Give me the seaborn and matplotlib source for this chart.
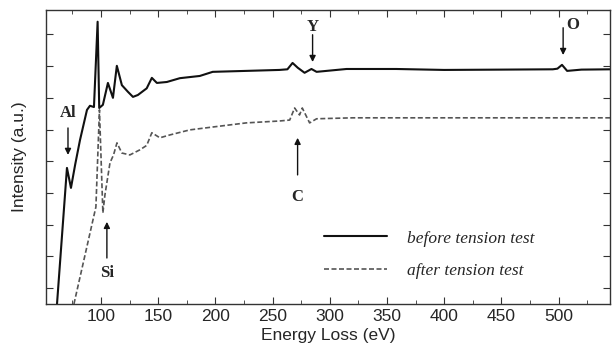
import numpy as np
import pandas as pd
import matplotlib
matplotlib.use("Agg")
import matplotlib.pyplot as plt
import seaborn as sns
from matplotlib.ticker import MultipleLocator, NullFormatter

# ------------------------------------------------------------
# EELS spectra (energy in eV, intensity a.u.)
# ------------------------------------------------------------
before_ev = [61.6, 70.3, 73.8, 77.5, 81.7, 87.8, 90.4, 93.9, 97.1, 98.5, 101.7,
             106.1, 110.5, 113.9, 118.3, 123.6, 128.0, 132.3, 140.0, 144.5,
             148.9, 157.6, 169.0, 186.4, 197.7, 227.0, 256.0, 263.0, 267.5,
             272.0, 278.0, 284.0, 288.5, 314.7, 358.0, 400.0, 450.0, 495.0,
             499.0, 503.0, 507.5, 520.0, 545.0]
before_int = [0.0, 4.29, 3.66, 4.40, 5.17, 6.12, 6.25, 6.21, 8.90, 6.18, 6.28,
              6.97, 6.50, 7.51, 6.90, 6.69, 6.53, 6.59, 6.80, 7.13,
              6.97, 7.00, 7.12, 7.19, 7.32, 7.35, 7.38, 7.40, 7.60,
              7.45, 7.29, 7.41, 7.32, 7.41, 7.41, 7.38, 7.39, 7.40,
              7.42, 7.54, 7.35, 7.39, 7.40]

after_ev = [76.4, 95.6, 98.7, 101.7, 103.5, 107.9, 111.0, 114.0, 118.3, 125.3,
            134.0, 140.0, 144.5, 151.5, 160.2, 177.7, 197.7, 227.0, 256.0,
            265.0, 269.3, 273.6, 276.0, 282.4, 288.5, 320.0, 400.0, 545.0]
after_int = [0.0, 3.06, 6.12, 2.87, 3.44, 4.45, 4.70, 5.08, 4.76, 4.70,
             4.86, 5.00, 5.40, 5.24, 5.33, 5.49, 5.58, 5.71, 5.77,
             5.80, 6.18, 5.96, 6.18, 5.71, 5.84, 5.87, 5.87, 5.87]

labels = ["before tension test", "after tension test"]

# edge markers: (label, energy, arrow tail, arrow head, text y)
edges = [("Al", 71.2, 5.55, 4.70, 6.03),
         ("Si", 105.2, 1.45, 2.59, 0.98),
         ("C", 271.9, 4.07, 5.24, 3.38),
         ("Y", 285.0, 8.49, 7.63, 8.74)]

before = pd.DataFrame({"ev": before_ev, "intensity": before_int})
after = pd.DataFrame({"ev": after_ev, "intensity": after_int})

# ------------------------------------------------------------
# PLOT
# ------------------------------------------------------------
sns.set_style("ticks")
plt.rcParams["font.family"] = ["Liberation Sans", "DejaVu Sans"]

fig = plt.figure(figsize=(6.12, 3.57), dpi=100)
ax = fig.add_axes([0.0752, 0.1485, 0.9216, 0.8235])

sns.lineplot(data=before, x="ev", y="intensity", ax=ax, color="#111111",
             linewidth=1.5, label=labels[0])
sns.lineplot(data=after, x="ev", y="intensity", ax=ax, color="#555555",
             linewidth=1.2, linestyle=(0, (3, 1.5)), label=labels[1])

ax.set_xlim(52, 545)
ax.set_ylim(0, 9.27)
ax.xaxis.set_major_locator(MultipleLocator(50))
ax.xaxis.set_minor_locator(MultipleLocator(25))
ax.set_yticks(np.arange(0.5, 9.0, 1.0))
ax.yaxis.set_major_formatter(NullFormatter())
ax.tick_params(axis="both", which="both", direction="in", top=True, right=True,
               color="#333333")
ax.tick_params(axis="both", which="major", length=5, labelsize=12.5)
ax.tick_params(axis="x", which="minor", length=3)
for s in ax.spines.values():
    s.set_color("#333333")
    s.set_linewidth(1.0)

ax.set_xlabel("Energy Loss (eV)", fontsize=12.5, labelpad=3)
ax.set_ylabel("Intensity (a.u.)", fontsize=12.5, labelpad=10)

bold_serif = dict(family="Liberation Serif", fontweight="bold", fontsize=12)
arrow = dict(arrowstyle="-|>", color="#111111", lw=1.0, mutation_scale=9,
             shrinkA=0, shrinkB=0)
for name, x, tail, head, ty in edges:
    ax.annotate("", xy=(x, head), xytext=(x, tail), arrowprops=arrow)
    ax.text(x, ty, name, ha="center", va="center", **bold_serif)

# oxygen edge, label sits to the right of its arrow
ax.annotate("", xy=(504, 7.85), xytext=(504, 8.71), arrowprops=arrow)
ax.text(512, 8.8, "O", ha="center", va="center", **bold_serif)

leg = ax.legend(loc="upper left", bbox_to_anchor=(0.478, 0.28), frameon=False,
                handlelength=3.6, handletextpad=1.15, labelspacing=0.95,
                borderpad=0, prop={"family": "Liberation Serif", "style": "italic",
                                   "size": 12.5})

fig.savefig("out.png", dpi=100)
